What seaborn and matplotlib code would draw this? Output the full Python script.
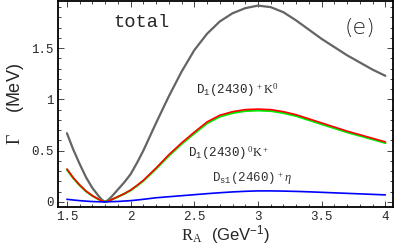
import numpy as np
import pandas as pd
import matplotlib
matplotlib.use("Agg")
import matplotlib.pyplot as plt
from matplotlib.ticker import MultipleLocator, FixedLocator
import seaborn as sns

# Data
R = [1.5, 1.55, 1.6, 1.65, 1.7, 1.75, 1.775, 1.8, 1.825, 1.85, 1.9, 1.95, 2.0, 2.05, 2.1,
     2.2, 2.3, 2.4, 2.5, 2.6, 2.7, 2.8, 2.9, 3.0, 3.1, 3.2, 3.3, 3.4, 3.5, 3.6, 3.7, 3.8,
     3.9, 4.0]
total = [0.67, 0.51, 0.37, 0.24, 0.135, 0.055, 0.02, 0.0, 0.02, 0.05, 0.12, 0.19, 0.27,
         0.38, 0.50, 0.77, 1.03, 1.27, 1.48, 1.64, 1.76, 1.84, 1.89, 1.915, 1.90, 1.85,
         1.77, 1.68, 1.59, 1.51, 1.43, 1.36, 1.29, 1.23]
d1_plus_k0 = [0.32, 0.235, 0.165, 0.105, 0.06, 0.025, 0.01, 0.0, 0.008, 0.022, 0.05, 0.08,
              0.115, 0.16, 0.21, 0.33, 0.46, 0.575, 0.68, 0.78, 0.845, 0.88, 0.90, 0.905,
              0.90, 0.88, 0.85, 0.81, 0.77, 0.73, 0.69, 0.655, 0.62, 0.585]
d1_zero_kplus = [0.315, 0.231, 0.162, 0.103, 0.059, 0.024, 0.01, 0.0, 0.008, 0.021, 0.049,
                 0.078, 0.112, 0.157, 0.205, 0.323, 0.45, 0.565, 0.668, 0.767, 0.832, 0.867,
                 0.887, 0.892, 0.887, 0.867, 0.838, 0.798, 0.758, 0.719, 0.679, 0.645, 0.61,
                 0.575]
ds1_eta = [0.025, 0.018, 0.012, 0.007, 0.003, 0.001, 0.0, 0.0, 0.001, 0.002, 0.004, 0.008,
           0.012, 0.018, 0.025, 0.04, 0.05, 0.06, 0.07, 0.08, 0.089, 0.097, 0.103, 0.107,
           0.107, 0.105, 0.102, 0.098, 0.093, 0.088, 0.083, 0.078, 0.073, 0.068]
xticks = [1.5, 2, 2.5, 3, 3.5, 4]
xticklabels = ["1.5", "2", "2.5", "3", "3.5", "4"]
yticks = [0, 0.5, 1, 1.5]
yticklabels = ["0", "0.5", "1", "1.5"]

sns.set_style("ticks")
plt.rcParams["font.family"] = ["Liberation Mono", "DejaVu Sans"]
plt.rcParams["mathtext.fontset"] = "custom"
plt.rcParams["mathtext.rm"] = "Liberation Serif"
plt.rcParams["mathtext.it"] = "Liberation Serif:italic"
plt.rcParams["mathtext.tt"] = "Liberation Mono"
plt.rcParams["mathtext.sf"] = "Liberation Sans"

fig = plt.figure(figsize=(4.0, 2.47), dpi=100)
ax = fig.add_axes([0.145, 0.162, 0.8375, 0.834])

df = pd.DataFrame({"R": R, "total": total, "a": d1_plus_k0, "b": d1_zero_kplus, "c": ds1_eta})
sns.lineplot(data=df, x="R", y="total", ax=ax, color="#646464", lw=1.6)
sns.lineplot(data=df, x="R", y="b", ax=ax, color="#00ee00", lw=1.6)
sns.lineplot(data=df, x="R", y="a", ax=ax, color="#ff0000", lw=1.2)
sns.lineplot(data=df, x="R", y="c", ax=ax, color="#0000ff", lw=1.2)

ax.set_xlim(1.43, 4.06)
ax.set_ylim(-0.05, 1.96)
ax.xaxis.set_major_locator(FixedLocator(xticks))
ax.set_xticklabels(xticklabels, fontsize=9)
ax.yaxis.set_major_locator(FixedLocator(yticks))
ax.set_yticklabels(yticklabels, fontsize=9)
ax.xaxis.set_minor_locator(MultipleLocator(0.1))
ax.yaxis.set_minor_locator(MultipleLocator(0.1))
ax.tick_params(which="both", direction="in", top=True, right=True, width=0.6, pad=3)
ax.tick_params(which="major", length=4)
ax.tick_params(which="minor", length=2)
for s in ax.spines.values():
    s.set_linewidth(1.3)
    s.set_color("black")

ax.set_xlabel(r"$\mathrm{R_A}$ $\mathsf{(GeV^{-1})}$", fontsize=12, labelpad=0)
ax.set_ylabel(r"$\Gamma$  $\mathsf{(MeV)}$", fontsize=13, labelpad=4)

ax.text(1.86, 1.75, "total", fontsize=13.5, va="center", ha="left")
ax.text(3.80, 1.70, "(e)", fontsize=16, va="center", ha="center", family="DejaVu Sans",
        fontweight="light")
ax.text(2.51, 1.09, r"$\mathtt{D_1(2430)}^{\,+}\mathrm{K}^0$", fontsize=9, va="center", ha="left")
ax.text(2.45, 0.475, r"$\mathtt{D_1(2430)}^{\,0}\mathrm{K}^+$", fontsize=9, va="center", ha="left")
ax.text(2.64, 0.23, r"$\mathtt{D_{s1}(2460)}^{\,+}\eta$", fontsize=9, va="center", ha="left",
        color="#333333")

fig.savefig("out.png", dpi=100)
